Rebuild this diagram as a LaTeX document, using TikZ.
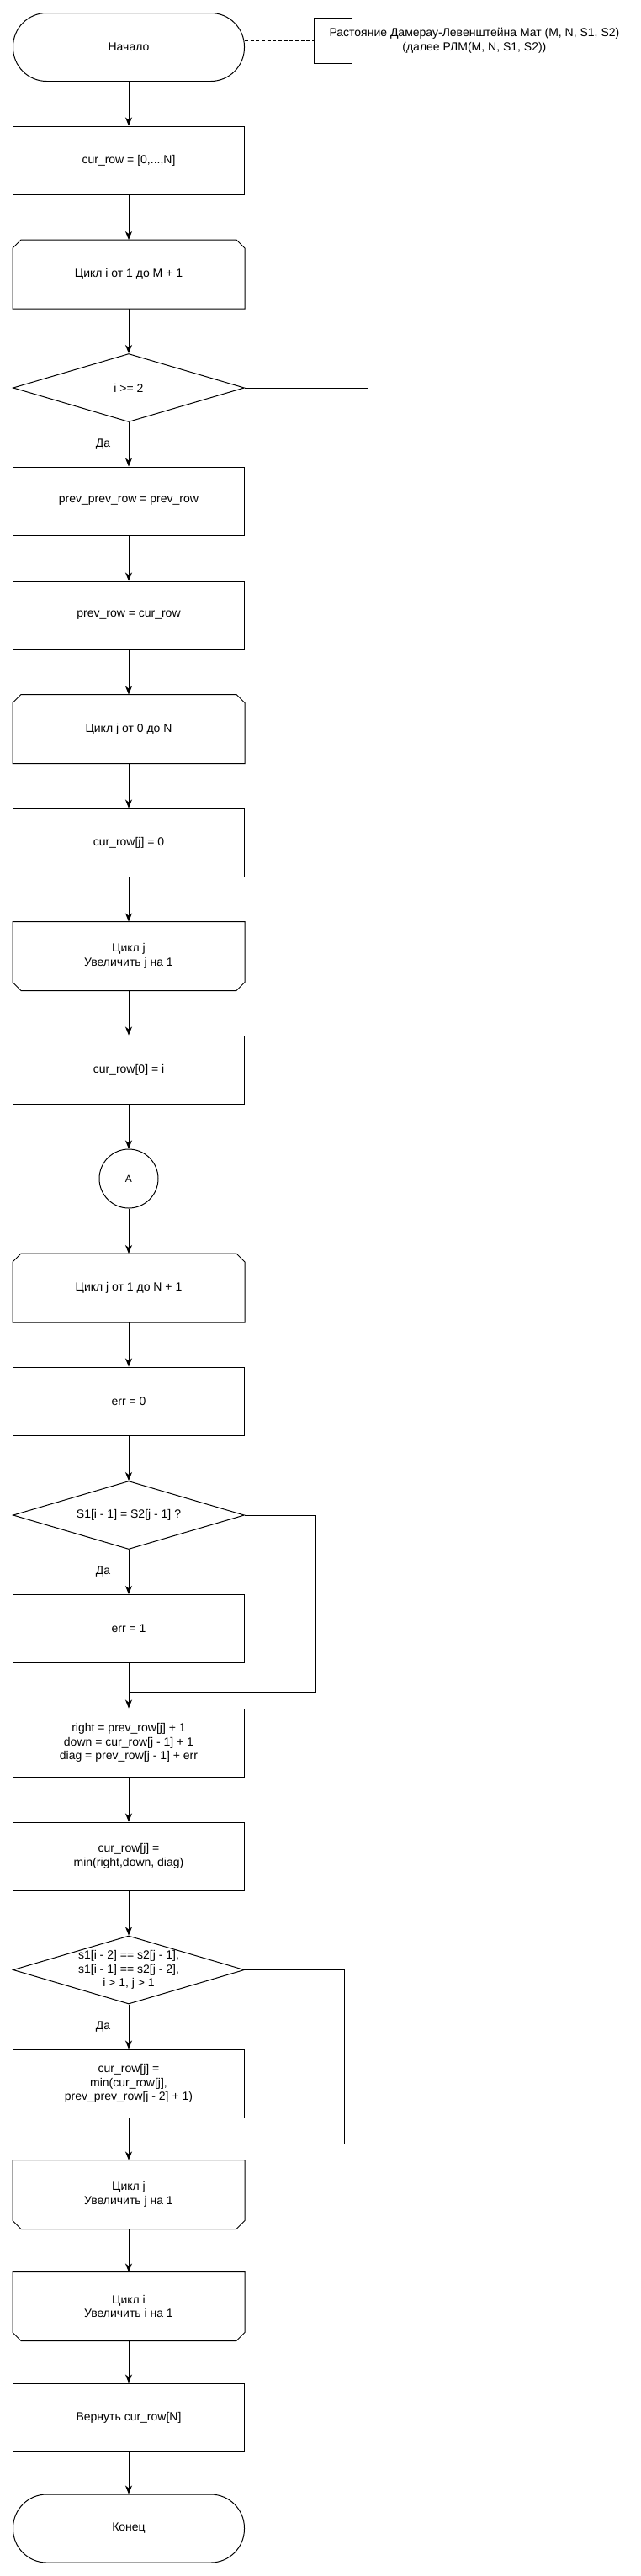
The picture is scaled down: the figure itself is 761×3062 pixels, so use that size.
\documentclass[tikz,border=0pt]{standalone}
\usepackage{fontspec}
\setmainfont{Liberation Sans}
\usetikzlibrary{arrows.meta,shapes.geometric}

\tikzset{
  base/.style = {minimum width=206.25pt, minimum height=60.75pt, align=center, inner sep=2pt},
  proc/.style = {base, rectangle, draw},
  term/.style = {base, rectangle, draw, rounded corners=30pt},
  cyc/.style = {base, rectangle},
  decision/.style = {base, diamond, draw, aspect=3.4, inner sep=-1pt},
  conn/.style = {circle, draw, minimum size=52.5pt, inner sep=0pt, font=\fontsize{9pt}{11pt}\selectfont},
  note/.style = {align=center, inner xsep=13.5pt, minimum height=40pt},
  yes/.style = {left=16pt, inner sep=0pt},
  arr/.style = {-{Stealth[length=7.5pt, width=6pt, inset=2.2pt]}}
}

\begin{document}
\begin{tikzpicture}[x=0.75pt, y=-0.75pt, line width=0.75pt, font=\fontsize{10.5pt}{12.6pt}\selectfont]
  \useasboundingbox (0,0) rectangle (761,3062);

  % start and comment
  \node[term] (start) at (153,56) {Начало};
  \node[note, anchor=west] (note) at (373,48.5) {Растояние Дамерау-Левенштейна Мат (M, N, S1, S2)\\(далее РЛМ(M, N, S1, S2))};
  \draw ([xshift=34.5pt]note.north west) -- (note.north west) -- (note.south west) -- ([xshift=34.5pt]note.south west);
  \draw[dash pattern=on 3pt off 2pt] (start.east |- note.west) -- (note.west);

  % outer loop over i
  \node[proc] (init) at (153,190.5) {cur\_row = [0,...,N]};
  \node[cyc] (forI) at (153,326) {Цикл i от 1 до M + 1};
  \node[decision] (condA) at (153,461) {i >= 2};
  \node[proc] (ppRow) at (153,595.5) {prev\_prev\_row = prev\_row};
  \coordinate (m1) at (153,670);
  \node[proc] (pRow) at (153,731.5) {prev\_row = cur\_row};

  % zero loop over j
  \node[cyc] (forJ0) at (153,866.5) {Цикл j от 0 до N};
  \node[proc] (zero) at (153,1001.5) {cur\_row[j] = 0};
  \node[cyc] (endJ0) at (153,1136.5) {Цикл j\\Увеличить j на 1};
  \node[proc] (first) at (153,1271.5) {cur\_row[0] = i};
  \node[conn] (A) at (153,1401) {A};

  % inner loop over j
  \node[cyc] (forJ1) at (153,1531) {Цикл j от 1 до N + 1};
  \node[proc] (err0) at (153,1665.5) {err = 0};
  \node[decision] (condB) at (153,1801) {S1[i - 1] = S2[j - 1] ?};
  \node[proc] (err1) at (153,1936) {err = 1};
  \coordinate (m2) at (153,2011);
  \node[proc] (calc) at (153,2071.5) {right = prev\_row[j] + 1\\down = cur\_row[j - 1] + 1\\diag = prev\_row[j - 1] + err};
  \node[proc] (minRow) at (153,2206.5) {cur\_row[j] =\\min(right,down, diag)};
  \node[decision] (condC) at (153,2341.5) {s1[i - 2] ==  s2[j - 1],\\s1[i - 1] ==  s2[j - 2],\\i > 1, j > 1};
  \node[proc] (swap) at (153,2476.5) {cur\_row[j] =\\min(cur\_row[j],\\prev\_prev\_row[j - 2] + 1)};
  \coordinate (m3) at (153,2548);
  \node[cyc] (endJ1) at (153,2608.5) {Цикл j\\Увеличить j на 1};
  \node[cyc] (endI) at (153,2741.5) {Цикл i\\Увеличить i на 1};
  \node[proc] (ret) at (153,2873.5) {Вернуть cur\_row[N]};
  \node[term] (stop) at (153,3005.5) {Конец};

  % loop shapes
  \foreach \n in {forI, forJ0, forJ1}
    \draw (\n.south west) -- (\n.south east) -- ([yshift=-7.5pt]\n.north east) -- ([xshift=-7.5pt]\n.north east)
      -- ([xshift=7.5pt]\n.north west) -- ([yshift=-7.5pt]\n.north west) -- cycle;
  \foreach \n in {endJ0, endJ1, endI}
    \draw (\n.north west) -- (\n.north east) -- ([yshift=7.5pt]\n.south east) -- ([xshift=-7.5pt]\n.south east)
      -- ([xshift=7.5pt]\n.south west) -- ([yshift=7.5pt]\n.south west) -- cycle;

  % connectors
  \draw[arr] (start) -- (init);
  \draw[arr] (init) -- (forI);
  \draw[arr] (forI) -- (condA);
  \draw[arr] (condA) -- node[yes] {Да} (ppRow);
  \draw (ppRow) -- (m1);
  \draw (condA.east) -- ++(146.5,0) |- (m1);
  \draw[arr] (m1) -- (pRow);
  \draw[arr] (pRow) -- (forJ0);
  \draw[arr] (forJ0) -- (zero);
  \draw[arr] (zero) -- (endJ0);
  \draw[arr] (endJ0) -- (first);
  \draw[arr] (first) -- (A);
  \draw[arr] (A) -- (forJ1);
  \draw[arr] (forJ1) -- (err0);
  \draw[arr] (err0) -- (condB);
  \draw[arr] (condB) -- node[yes] {Да} (err1);
  \draw (err1) -- (m2);
  \draw (condB.east) -- ++(84.5,0) |- (m2);
  \draw[arr] (m2) -- (calc);
  \draw[arr] (calc) -- (minRow);
  \draw[arr] (minRow) -- (condC);
  \draw[arr] (condC) -- node[yes] {Да} (swap);
  \draw (swap) -- (m3);
  \draw (condC.east) -- ++(118.5,0) |- (m3);
  \draw[arr] (m3) -- (endJ1);
  \draw[arr] (endJ1) -- (endI);
  \draw[arr] (endI) -- (ret);
  \draw[arr] (ret) -- (stop);
\end{tikzpicture}
\end{document}
